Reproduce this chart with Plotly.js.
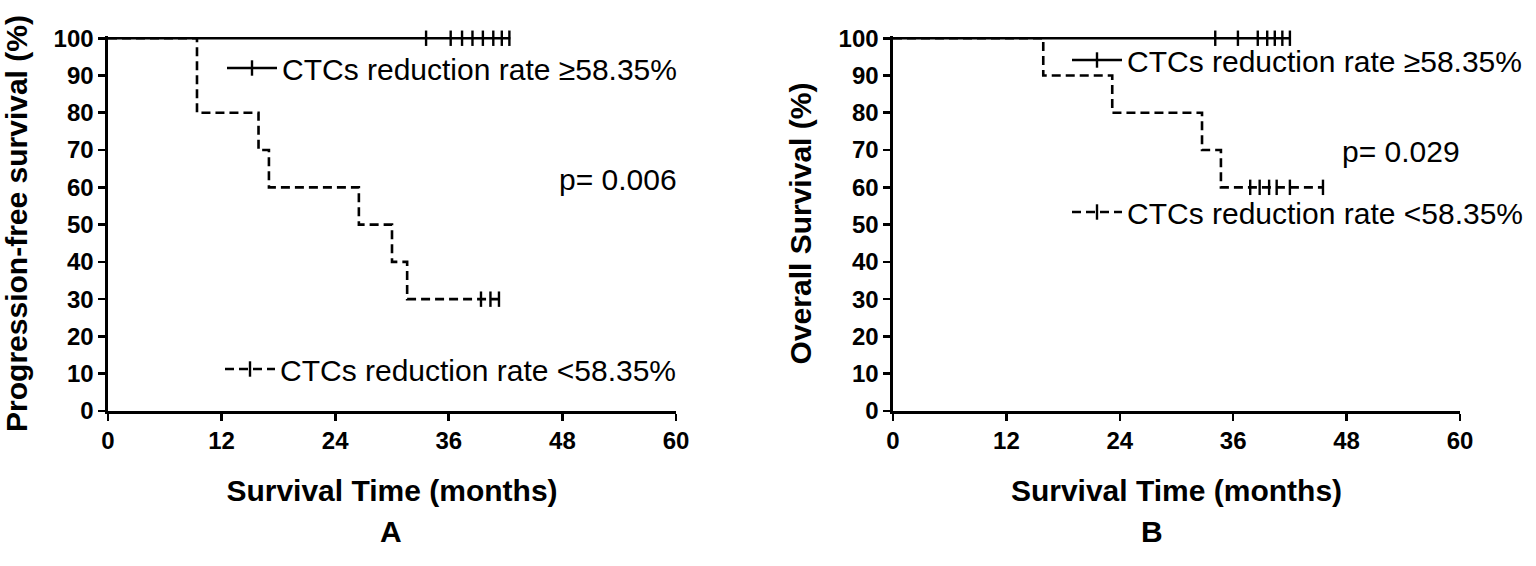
<!DOCTYPE html>
<html>
<head>
<meta charset="utf-8">
<script src="https://cdn.plot.ly/plotly-3.0.1.min.js"></script>
<style>
  html, body { margin: 0; padding: 0; background: #fff; }
  #chart { width: 1536px; height: 566px; }
</style>
</head>
<body>
<div id="chart"></div>
<script>
// Panel A - progression-free survival
const pfsHighTimes = [0, 42.5];
const pfsHighSurv = [100, 100];
const pfsHighCensor = [33.6, 36.2, 37.4, 38.5, 39.6, 40.7, 41.6, 42.4];

const pfsLowTimes = [0, 9.4, 15.9, 17.0, 26.5, 30.0, 31.6, 41.3];
const pfsLowSurv = [100, 80, 70, 60, 50, 40, 30, 30];
const pfsLowCensor = [39.4, 40.4, 41.3];
const pfsLowCensorSurv = [30, 30, 30];

// Panel B - overall survival
const osHighTimes = [0, 42.0];
const osHighSurv = [100, 100];
const osHighCensor = [34.1, 36.5, 38.6, 39.6, 40.4, 41.2, 42.0];

const osLowTimes = [0, 15.9, 23.2, 32.7, 34.7, 45.5];
const osLowSurv = [100, 90, 80, 70, 60, 60];
const osLowCensor = [37.8, 38.8, 39.8, 40.6, 42.0, 45.5];
const osLowCensorSurv = [60, 60, 60, 60, 60, 60];

const groupHigh = 'CTCs reduction rate ≥58.35%';
const groupLow = 'CTCs reduction rate <58.35%';
const pValues = ['p= 0.006', 'p= 0.029'];
const yTitles = ['Progression-free survival (%)', 'Overall Survival (%)'];
const xTitle = 'Survival Time (months)';
const panelLabels = ['A', 'B'];

const FONT = "'Liberation Sans', Arial, sans-serif";
const DASH = '9px,5px';

function curve(x, y, dash, xa, ya) {
    return {
        x, y, xaxis: xa, yaxis: ya,
        type: 'scatter', mode: 'lines',
        line: { color: '#000', width: 2.6, shape: 'hv', dash },
        showlegend: false, hoverinfo: 'skip'
    };
}

function censors(x, y, xa, ya) {
    return {
        x, y, xaxis: xa, yaxis: ya,
        type: 'scatter', mode: 'markers',
        marker: { symbol: 'line-ns-open', size: 11, color: '#000', line: { color: '#000', width: 2.4 } },
        showlegend: false, cliponaxis: false, hoverinfo: 'skip'
    };
}

// legend-only entry: line with a censor tick
function key(name, dash, legend) {
    return {
        x: [null], y: [null],
        type: 'scatter', mode: 'lines+markers', name, legend,
        line: { color: '#000', width: 2.6, dash },
        marker: { symbol: 'line-ns-open', size: 11, color: '#000', line: { color: '#000', width: 2.4 } },
        showlegend: true
    };
}

const traces = [
    curve(pfsHighTimes, pfsHighSurv, 'solid', 'x', 'y'),
    censors(pfsHighCensor, pfsHighCensor.map(() => 100), 'x', 'y'),
    curve(pfsLowTimes, pfsLowSurv, DASH, 'x', 'y'),
    censors(pfsLowCensor, pfsLowCensorSurv, 'x', 'y'),
    curve(osHighTimes, osHighSurv, 'solid', 'x2', 'y2'),
    censors(osHighCensor, osHighCensor.map(() => 100), 'x2', 'y2'),
    curve(osLowTimes, osLowSurv, DASH, 'x2', 'y2'),
    censors(osLowCensor, osLowCensorSurv, 'x2', 'y2'),
    key(groupHigh, 'solid', 'legend'),
    key(groupLow, DASH, 'legend2'),
    key(groupHigh, 'solid', 'legend3'),
    key(groupLow, DASH, 'legend4')
];

const W = 1536, H = 566;
const tickFont = { family: FONT, size: 24, color: '#000', weight: 'bold' };
const titleFont = { family: FONT, size: 30, color: '#000', weight: 'bold' };
const textFont = { family: FONT, size: 30, color: '#000' };

function xAxis(domain, anchor) {
    return {
        domain, anchor, range: [0, 60], tickvals: [0, 12, 24, 36, 48, 60],
        showline: true, linecolor: '#000', linewidth: 2.6,
        ticks: 'outside', ticklen: 7, tickwidth: 2.6, tickcolor: '#000',
        showgrid: false, zeroline: false, tickfont: tickFont,
        title: { text: xTitle, font: titleFont, standoff: 27 }
    };
}

function yAxis(domain, anchor, title) {
    return {
        domain, anchor, range: [0, 100.6], tickvals: [0, 10, 20, 30, 40, 50, 60, 70, 80, 90, 100],
        showline: true, linecolor: '#000', linewidth: 2.6,
        ticks: 'outside', ticklen: 7, tickwidth: 2.6, tickcolor: '#000',
        showgrid: false, zeroline: false, tickfont: tickFont,
        title: { text: title, font: titleFont, standoff: 18 }
    };
}

function legendAt(px, py) {
    return {
        x: px / W, y: 1 - py / H, xanchor: 'left', yanchor: 'middle',
        bgcolor: 'rgba(0,0,0,0)', borderwidth: 0, itemwidth: 50,
        font: textFont, tracegroupgap: 0
    };
}

const yDom = [1 - 411 / H, 1 - 36 / H];

const layout = {
    width: W, height: H,
    margin: { l: 0, r: 0, t: 0, b: 0 },
    paper_bgcolor: '#fff', plot_bgcolor: '#fff',
    font: { family: FONT, color: '#000' },
    xaxis: xAxis([108 / W, 676 / W], 'y'),
    yaxis: yAxis(yDom, 'x', yTitles[0]),
    xaxis2: xAxis([893 / W, 1460 / W], 'y2'),
    yaxis2: yAxis(yDom, 'x2', yTitles[1]),
    legend: legendAt(222, 68),
    legend2: legendAt(220, 369),
    legend3: legendAt(1067, 60),
    legend4: legendAt(1067, 212),
    annotations: [
        { text: pValues[0], xref: 'x', yref: 'y', x: 47.4, y: 62, xanchor: 'left',
          showarrow: false, font: textFont },
        { text: pValues[1], xref: 'x2', yref: 'y2', x: 47.3, y: 69.5, xanchor: 'left',
          showarrow: false, font: textFont },
        { text: panelLabels[0], xref: 'paper', yref: 'paper', x: 378 / W, y: 1 - 550 / H,
          showarrow: false, font: titleFont },
        { text: panelLabels[1], xref: 'paper', yref: 'paper', x: 1165 / W, y: 1 - 550 / H,
          showarrow: false, font: titleFont }
    ]
};

Plotly.newPlot('chart', traces, layout, { displayModeBar: false, staticPlot: true });
</script>
</body>
</html>
